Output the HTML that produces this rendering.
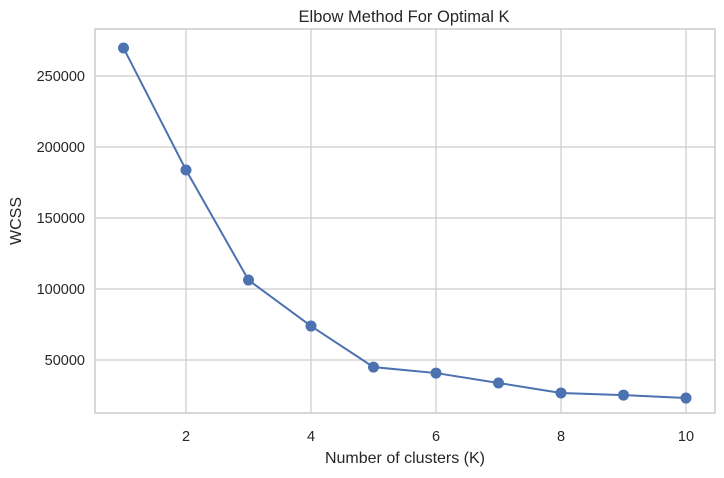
<!DOCTYPE html>
<html><head><meta charset="utf-8"><style>
body{margin:0;background:#fff;font-family:"Liberation Sans",sans-serif;}
svg text{font-family:"Liberation Sans",sans-serif;fill:#262626;}
</style></head><body>
<svg id="chart" width="724" height="473"></svg>
<script>
const kValues=[1,2,3,4,5,6,7,8,9,10];
const wcssValues=[269700,183800,106300,73900,45000,40800,33800,26800,25300,23200];
const xTicks=[2,4,6,8,10];
const yTicks=[50000,100000,150000,200000,250000];
const L=95,R=715,T=29,B=413;
const sx=v=>123.5+(v-1)*62.5;
const sy=v=>431-v/50000*71;
const svg=document.getElementById('chart');
const NS='http://www.w3.org/2000/svg';
function mk(tag,attrs,parent){const e=document.createElementNS(NS,tag);for(const k in attrs)e.setAttribute(k,attrs[k]);(parent||svg).appendChild(e);return e;}
const grid=mk('g',{});


xTicks.forEach(t=>{
 const l=mk('line',{x1:sx(t),x2:sx(t),y1:T,y2:B,stroke:'#cccccc','stroke-width':1.2},grid);
 
 
 const tx=mk('text',{x:sx(t),y:441,'text-anchor':'middle','font-size':14.5});
 tx.textContent=t;
 
 
});
yTicks.forEach(t=>{
 const l=mk('line',{x1:L,x2:R,y1:sy(t),y2:sy(t),stroke:'#cccccc','stroke-width':1.2},grid);
 
 
 const tx=mk('text',{x:85,y:sy(t)+5,'text-anchor':'end','font-size':14.5});
 tx.textContent=t;
 
 
});
const frame=mk('rect',{x:L,y:T,width:R-L,height:B-T,fill:'none',stroke:'#cccccc','stroke-width':1.5});


const line=mk('polyline',{points:kValues.map((k,i)=>sx(k)+','+sy(wcssValues[i])).join(' '),fill:'none',stroke:'#4c72b0','stroke-width':2});


kValues.forEach((k,i)=>{
 const c=mk('circle',{cx:sx(k),cy:sy(wcssValues[i]),r:5.5,fill:'#4c72b0'});
 
 
});
const title=mk('text',{x:404,y:22,'text-anchor':'middle','font-size':16.5});
title.textContent='Elbow Method For Optimal K';


const xl=mk('text',{x:405,y:463,'text-anchor':'middle','font-size':16});
xl.textContent='Number of clusters (K)';


const yl=mk('text',{x:21,y:221,'text-anchor':'middle','font-size':16,transform:'rotate(-90 21 221)'});
yl.textContent='WCSS';


</script>
</body></html>
